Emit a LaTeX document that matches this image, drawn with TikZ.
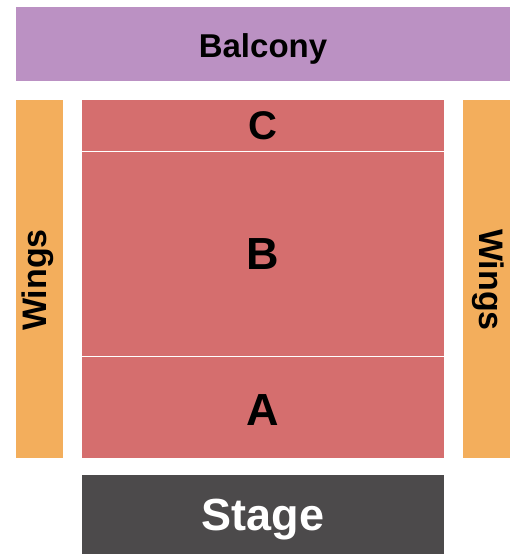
\documentclass[tikz,border=0pt]{standalone}
\usepackage{fontspec}
\setmainfont{Liberation Sans}
\definecolor{balc}{HTML}{BB91C3}
\definecolor{wing}{HTML}{F3AE5C}
\definecolor{sect}{HTML}{D56E6E}
\definecolor{stg}{HTML}{4C4A4B}
\begin{document}
\begin{tikzpicture}[x=1pt,y=-1pt,
  zone/.style={rectangle,inner sep=0pt,outer sep=0pt,draw=none},
  lbl/.style={inner sep=0pt,anchor=base,font=\bfseries\fontsize{#1}{#1}\selectfont},
  lbl/.default=33]
\useasboundingbox (0,0) rectangle (525,560);
\node[zone,fill=balc,minimum width=494pt,minimum height=74pt] (balcony) at (263,44) {};
\node[zone,fill=wing,minimum width=47pt,minimum height=358pt] (wingsL) at (39.5,279) {};
\node[zone,fill=wing,minimum width=47pt,minimum height=358pt] (wingsR) at (486.5,279) {};
\node[zone,fill=sect,minimum width=362pt,minimum height=51pt] (C) at (263,125.5) {};
\node[zone,fill=sect,minimum width=362pt,minimum height=204pt] (B) at (263,254) {};
\node[zone,fill=sect,minimum width=362pt,minimum height=101pt] (A) at (263,407.5) {};
\node[zone,fill=stg,minimum width=362pt,minimum height=79pt] (stage) at (263,514.5) {};
\node[lbl=33] (balconyT) at (263,57) {Balcony};
\node[lbl=40] (CT) at (263,139) {C};
\node[lbl=45] (BT) at (263,269) {B};
\node[lbl=45] (AT) at (263,425) {A};
\node[lbl=45,text=white] (stageT) at (263,530) {Stage};
\node[inner sep=0pt,rotate=90,font=\bfseries\fontsize{34}{34}\selectfont] (wingsLT) at (38,280) {Wings};
\node[inner sep=0pt,rotate=-90,font=\bfseries\fontsize{34}{34}\selectfont] (wingsRT) at (488,280) {Wings};
\end{tikzpicture}
\end{document}
